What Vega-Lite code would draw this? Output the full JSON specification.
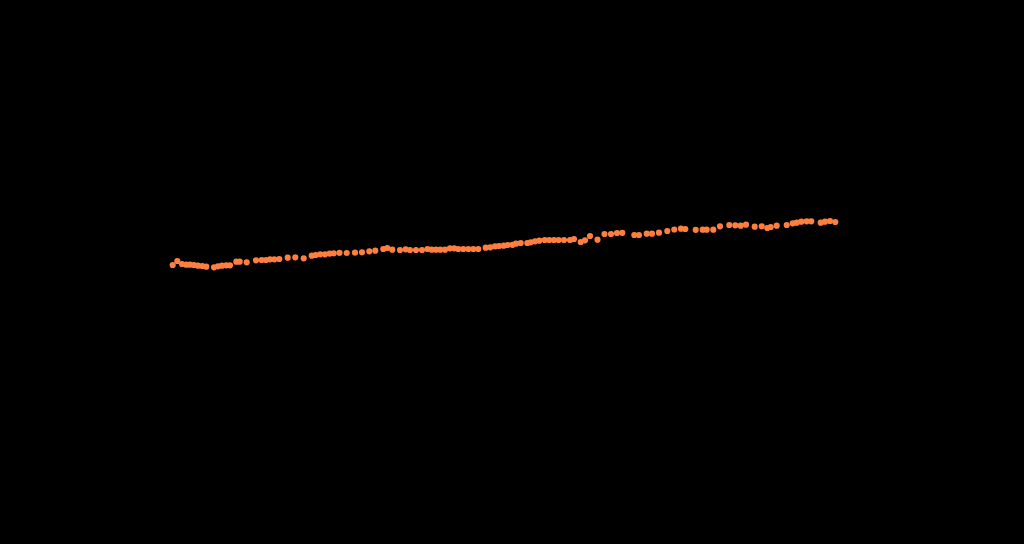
{
  "$schema": "https://vega.github.io/schema/vega-lite/v6.json",
  "autosize": {"type": "fit", "contains": "padding"},
  "width": 1024,
  "height": 544,
  "padding": 0,
  "background": "#000000",
  "config": {"view": {"stroke": null, "fill": "#000000"}},
  "data": {"values": [
    {"t": 172.7, "v": 279}, {"t": 177.3, "v": 283}, {"t": 182, "v": 280}, {"t": 186.3, "v": 279.3},
    {"t": 190, "v": 279.3}, {"t": 194, "v": 279}, {"t": 198, "v": 278.3}, {"t": 202.3, "v": 278},
    {"t": 206.3, "v": 277.3}, {"t": 214, "v": 276.7}, {"t": 218, "v": 277.7}, {"t": 222, "v": 278.3},
    {"t": 226.3, "v": 278.7}, {"t": 230, "v": 278.7}, {"t": 236.3, "v": 282.3}, {"t": 239.7, "v": 282.3},
    {"t": 246.7, "v": 281.7}, {"t": 256, "v": 283.7}, {"t": 261.7, "v": 284}, {"t": 266, "v": 284},
    {"t": 270, "v": 284.7}, {"t": 274.3, "v": 284.7}, {"t": 279.3, "v": 285}, {"t": 287.7, "v": 286.3},
    {"t": 295.3, "v": 286.7}, {"t": 303.7, "v": 285.7}, {"t": 311.7, "v": 288.3}, {"t": 315.7, "v": 289},
    {"t": 320.3, "v": 289.7}, {"t": 325, "v": 289.7}, {"t": 329.7, "v": 290.3}, {"t": 333.7, "v": 290.7},
    {"t": 339.5, "v": 291.2}, {"t": 346.7, "v": 291}, {"t": 355, "v": 291.3}, {"t": 362, "v": 291.7},
    {"t": 369.3, "v": 292.7}, {"t": 375.3, "v": 293.3}, {"t": 383.3, "v": 295}, {"t": 387.3, "v": 296},
    {"t": 392.3, "v": 294.3}, {"t": 400, "v": 294}, {"t": 405.7, "v": 294.7}, {"t": 410, "v": 294},
    {"t": 416, "v": 294}, {"t": 422, "v": 294}, {"t": 427.5, "v": 295}, {"t": 431.7, "v": 294.3},
    {"t": 436, "v": 294.3}, {"t": 440.3, "v": 294.3}, {"t": 445, "v": 294.3}, {"t": 450, "v": 295.7},
    {"t": 454.3, "v": 295.7}, {"t": 458.3, "v": 295}, {"t": 463.3, "v": 295}, {"t": 468.3, "v": 295},
    {"t": 473.3, "v": 295}, {"t": 478.3, "v": 295}, {"t": 485.7, "v": 296.3}, {"t": 490.3, "v": 296.7},
    {"t": 495, "v": 297.7}, {"t": 499, "v": 298}, {"t": 503.7, "v": 298.3}, {"t": 507.7, "v": 299},
    {"t": 512.5, "v": 299.2}, {"t": 516, "v": 300.3}, {"t": 520.7, "v": 301}, {"t": 527.3, "v": 301},
    {"t": 530.7, "v": 301.7}, {"t": 535, "v": 302.7}, {"t": 539.3, "v": 303.3}, {"t": 544.7, "v": 304},
    {"t": 549.3, "v": 304}, {"t": 554, "v": 304}, {"t": 558.7, "v": 304}, {"t": 564, "v": 304},
    {"t": 570, "v": 304}, {"t": 574, "v": 305}, {"t": 580.7, "v": 302}, {"t": 585, "v": 303.7},
    {"t": 590, "v": 308}, {"t": 597.5, "v": 304.3}, {"t": 604.5, "v": 310}, {"t": 611, "v": 310},
    {"t": 617, "v": 311}, {"t": 622.3, "v": 311.2}, {"t": 634.3, "v": 309}, {"t": 639, "v": 309},
    {"t": 646.7, "v": 310.3}, {"t": 652, "v": 310.3}, {"t": 659, "v": 311.3}, {"t": 667.3, "v": 313},
    {"t": 674.3, "v": 314.5}, {"t": 681, "v": 315.3}, {"t": 685.3, "v": 315}, {"t": 695.7, "v": 314.2},
    {"t": 702.7, "v": 314.3}, {"t": 706.7, "v": 314.3}, {"t": 713.3, "v": 314.3}, {"t": 720, "v": 317.7},
    {"t": 729.3, "v": 319}, {"t": 735.3, "v": 318.7}, {"t": 740.7, "v": 318.3}, {"t": 746, "v": 319.3},
    {"t": 754.7, "v": 317.3}, {"t": 761.7, "v": 317.7}, {"t": 767.3, "v": 316}, {"t": 770.7, "v": 317},
    {"t": 776.7, "v": 318.3}, {"t": 786.7, "v": 319}, {"t": 792.7, "v": 320.7}, {"t": 796.7, "v": 321.3},
    {"t": 801.3, "v": 322.3}, {"t": 806.7, "v": 322.7}, {"t": 811.3, "v": 322.7}, {"t": 820.7, "v": 321.3},
    {"t": 825, "v": 322.3}, {"t": 830, "v": 323}, {"t": 835.3, "v": 322}
  ]},
  "mark": {"type": "point", "shape": "circle", "filled": true, "size": 38, "opacity": 1, "color": "#ff7f3f"},
  "encoding": {
    "x": {"field": "t", "type": "quantitative", "scale": {"domain": [0, 1024], "nice": false, "zero": false}, "axis": null},
    "y": {"field": "v", "type": "quantitative", "scale": {"domain": [0, 544], "nice": false, "zero": false}, "axis": null}
  }
}
